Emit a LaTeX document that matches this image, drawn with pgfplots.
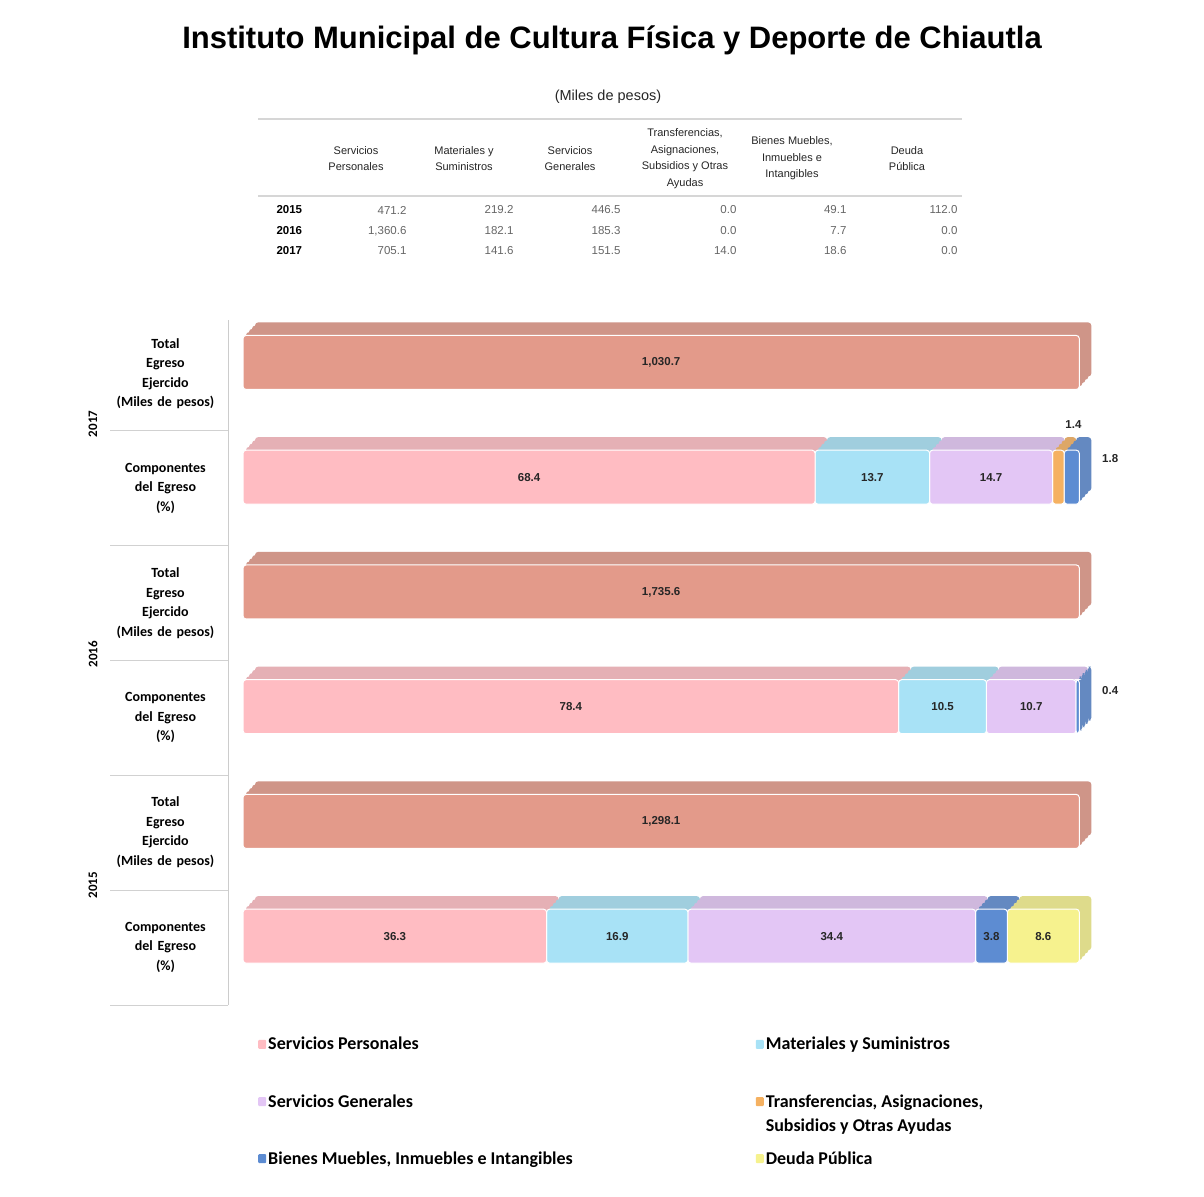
\documentclass[border=0pt]{standalone}
\usepackage{pgfplots}
\pgfplotsset{compat=1.18}
\usepackage{pgfplotstable}
\usepackage{fontspec}
\setmainfont{Liberation Sans}
\newfontfamily\carlito{Carlito}

\definecolor{cSP}{HTML}{FFBCC2}
\definecolor{cMS}{HTML}{A8E2F6}
\definecolor{cSG}{HTML}{E3C6F5}
\definecolor{cTR}{HTML}{F5B161}
\definecolor{cBM}{HTML}{5D8CD2}
\definecolor{cDP}{HTML}{F6F28E}
\definecolor{cTOT}{HTML}{E39A8A}

% rows: 0 comp 2015, 1 total 2015, 2 comp 2016, 3 total 2016, 4 comp 2017, 5 total 2017
\pgfplotstableread{
pos SP   MS   SG   TR  BM  DP  TOT
0   36.3 16.9 34.4 0   3.8 8.6 0
1   0    0    0    0   0   0   100
2   78.4 10.5 10.7 0   0.4 0   0
3   0    0    0    0   0   0   100
4   68.4 13.7 14.7 1.4 1.8 0   0
5   0    0    0    0   0   0   100
}\pct

\pgfplotsset{
  base/.style={
    scale only axis, width=868pt, height=685pt,
    xmin=-1.8, xmax=102, ymin=-0.6, ymax=5.37,
    xbar stacked, bar width=54pt, clip=false,
  },
  seg/.style={draw=white, line width=1pt, rounded corners=3pt},
  back/.style={draw=none, rounded corners=3pt},
  legimg/.style={legend image code/.code={\path[##1, draw=none, rounded corners=1pt] (0pt,-4.5pt) rectangle (8pt,4.5pt);}},
}
\tikzset{lab/.style={font=\bfseries\fontsize{11.5}{13}\selectfont, text=black!85}}

% back layer (top and side faces of the 3-d bars), shifted by #1,#2
\newcommand\backlayer[2]{%
\begin{axis}[base, at={(228pt+#1,-1005pt+#2)}, anchor=south west, hide axis]
\addplot[back, fill=cSP!80!gray] table[x=SP,y=pos]{\pct};
\addplot[back, fill=cMS!80!gray] table[x=MS,y=pos]{\pct};
\addplot[back, fill=cSG!80!gray] table[x=SG,y=pos]{\pct};
\addplot[back, fill=cTR!80!gray] table[x=TR,y=pos]{\pct};
\addplot[back, fill=cBM!80!gray] table[x=BM,y=pos]{\pct};
\addplot[back, fill=cDP!80!gray] table[x=DP,y=pos]{\pct};
\addplot[back, fill=cTOT!80!gray] table[x=TOT,y=pos]{\pct};
\end{axis}}

\begin{document}
\begin{tikzpicture}
\useasboundingbox (0,0) rectangle (1204pt,-1196pt);
\fill[white] (0,0) rectangle (1204pt,-1196pt);

% title and table
\node[font=\fontsize{31}{36}\selectfont\bfseries] at (612pt,-40pt) {Instituto Municipal de Cultura Física y Deporte de Chiautla};
\node[font=\fontsize{14.5}{17}\selectfont, text=black!85] at (608pt,-97pt) {(Miles de pesos)};
\draw[line width=2.5pt, black!16] (258pt,-119pt) -- (962pt,-119pt);
\draw[line width=2.5pt, black!16] (258pt,-196pt) -- (962pt,-196pt);
\begin{scope}[every node/.style={font=\fontsize{11}{16.5}\selectfont, align=center, text=black!85}]
\node at (356pt,-158.5pt) {Servicios\\Personales};
\node at (464pt,-158.5pt) {Materiales y\\Suministros};
\node at (570pt,-158.5pt) {Servicios\\Generales};
\node at (685pt,-158.5pt) {Transferencias,\\Asignaciones,\\Subsidios y Otras\\Ayudas};
\node at (792pt,-158.5pt) {Bienes Muebles,\\Inmuebles e\\Intangibles};
\node at (907pt,-158.5pt) {Deuda\\Pública};
\end{scope}
\begin{scope}[every node/.style={font=\fontsize{11.5}{14}\selectfont, text=black!60, anchor=east}]
\node[anchor=west, text=black, font=\fontsize{11.5}{14}\selectfont\bfseries] at (273pt,-210pt) {2015};
\node[anchor=west, text=black, font=\fontsize{11.5}{14}\selectfont\bfseries] at (273pt,-231pt) {2016};
\node[anchor=west, text=black, font=\fontsize{11.5}{14}\selectfont\bfseries] at (273pt,-251pt) {2017};
\node at (410pt,-210pt) {471.2};   \node at (517pt,-210pt) {219.2}; \node at (624pt,-210pt) {446.5};
\node at (740pt,-210pt) {0.0};     \node at (850pt,-210pt) {49.1};  \node at (961pt,-210pt) {112.0};
\node at (410pt,-231pt) {1,360.6}; \node at (517pt,-231pt) {182.1}; \node at (624pt,-231pt) {185.3};
\node at (740pt,-231pt) {0.0};     \node at (850pt,-231pt) {7.7};   \node at (961pt,-231pt) {0.0};
\node at (410pt,-251pt) {705.1};   \node at (517pt,-251pt) {141.6}; \node at (624pt,-251pt) {151.5};
\node at (740pt,-251pt) {14.0};    \node at (850pt,-251pt) {18.6};  \node at (961pt,-251pt) {0.0};
\end{scope}

\backlayer{12pt}{13pt}
\backlayer{9pt}{9.75pt}
\backlayer{6pt}{6.5pt}
\backlayer{3pt}{3.25pt}

% front faces
\begin{axis}[base, at={(228pt,-1005pt)}, anchor=south west,
  axis x line=none, axis y line=left,
  axis line style={-, draw=black!20, line width=1pt},
  xtick=\empty, ytick={0,...,5}, major tick length=0pt,
  yticklabels={Componentes\\del Egreso\\(\%), Total\\Egreso\\Ejercido\\(Miles de pesos),
               Componentes\\del Egreso\\(\%), Total\\Egreso\\Ejercido\\(Miles de pesos),
               Componentes\\del Egreso\\(\%), Total\\Egreso\\Ejercido\\(Miles de pesos)},
  yticklabel style={align=center, text width=112pt, yshift=-11pt, xshift=-3pt,
    font=\carlito\bfseries\fontsize{14}{19.5}\selectfont},
  legend columns=2, legend cell align=left,
  legend style={at={(0.0346,-0.044)}, anchor=north west, draw=none, fill=none, inner sep=0pt,
    font=\carlito\bfseries\fontsize{18}{21}\selectfont, row sep=39pt,
    /tikz/every even column/.append style={column sep=181pt}},
]
\addplot[seg, legimg, fill=cSP] table[x=SP,y=pos]{\pct};
\addlegendentry{Servicios Personales}
\addplot[seg, legimg, fill=cMS] table[x=MS,y=pos]{\pct};
\addlegendentry{Materiales y Suministros}
\addplot[seg, legimg, fill=cSG] table[x=SG,y=pos]{\pct};
\addlegendentry{Servicios Generales}
\addplot[seg, legimg, fill=cTR] table[x=TR,y=pos]{\pct};
\addlegendentry{\makebox[0pt][l]{\raisebox{-24pt}[0pt][0pt]{Subsidios y Otras Ayudas}}Transferencias, Asignaciones,}
\addplot[seg, legimg, fill=cBM] table[x=BM,y=pos]{\pct};
\addlegendentry{Bienes Muebles, Inmuebles e Intangibles}
\addplot[seg, legimg, fill=cDP] table[x=DP,y=pos]{\pct};
\addlegendentry{Deuda Pública}
\addplot[seg, fill=cTOT, forget plot] table[x=TOT,y=pos]{\pct};
\end{axis}

% value labels, on top of the bars
\begin{axis}[base, at={(228pt,-1005pt)}, anchor=south west, hide axis]
\node[lab] at (axis cs:50,5) {1,030.7};
\node[lab] at (axis cs:50,3) {1,735.6};
\node[lab] at (axis cs:50,1) {1,298.1};
\node[lab] at (axis cs:34.2,4) {68.4};
\node[lab] at (axis cs:75.25,4) {13.7};
\node[lab] at (axis cs:89.45,4) {14.7};
\node[lab] at (axis cs:99.3,4.46) {1.4};
\node[lab] at (axis cs:103.7,4.16) {1.8};
\node[lab] at (axis cs:39.2,2) {78.4};
\node[lab] at (axis cs:83.65,2) {10.5};
\node[lab] at (axis cs:94.25,2) {10.7};
\node[lab] at (axis cs:103.7,2.14) {0.4};
\node[lab] at (axis cs:18.15,0) {36.3};
\node[lab] at (axis cs:44.75,0) {16.9};
\node[lab] at (axis cs:70.4,0) {34.4};
\node[lab] at (axis cs:89.5,0) {3.8};
\node[lab] at (axis cs:95.7,0) {8.6};
\end{axis}

% row separators and year labels
\foreach \yy in {430,545,660,775,890,1005}
  \draw[black!18, line width=1pt] (110pt,-\yy pt) -- (228pt,-\yy pt);
\begin{scope}[every node/.style={rotate=90, font=\carlito\bfseries\fontsize{13}{15}\selectfont}]
\node at (93pt,-424pt) {2017};
\node at (93pt,-654pt) {2016};
\node at (93pt,-885pt) {2015};
\end{scope}
\end{tikzpicture}
\end{document}
